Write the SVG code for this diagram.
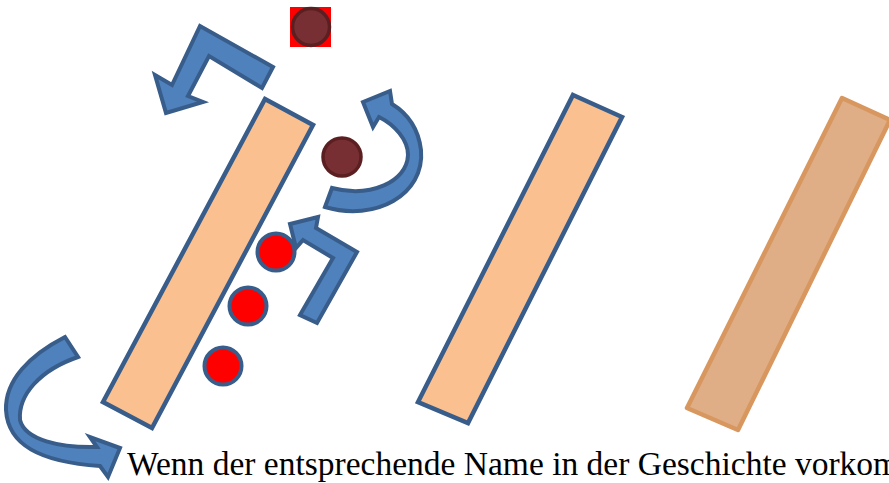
<svg xmlns="http://www.w3.org/2000/svg" width="889" height="483" viewBox="0 0 889 483">
<style>
.bar{fill:#FAC090;stroke:#385D8A;stroke-width:4.5;stroke-linejoin:miter}
.bar3{fill:#DFAE86;stroke:#D8975F;stroke-width:4.5;stroke-linejoin:round}
.arrow{fill:#4F81BD;stroke:#385D8A;stroke-width:4;stroke-linejoin:miter}
.dark{fill:#772F33;stroke:#5B1F22;stroke-width:3.5}
.red{fill:#FF0000;stroke:#385D8A;stroke-width:4}
.label{font-family:"Liberation Serif","DejaVu Serif",serif;font-size:33.5px;fill:#000}
</style>
<rect width="889" height="483" fill="#FFFFFF"/>
<g id="bar1"><polygon class="bar" points="265,99 313,125 152,428 103,402"/></g>
<g id="bar2"><polygon class="bar" points="573,95 622,117 468,423 418,402"/></g>
<g id="bar3"><polygon class="bar3" points="842,98 890,120 738,430 687,408"/></g>
<g id="token-top">
<rect x="290" y="7" width="41" height="40" fill="#FF0000"/>
<circle class="dark" cx="311" cy="27" r="18.5"/>
</g>
<g id="token-dark"><circle class="dark" cx="342" cy="157" r="19"/></g>
<g id="token-red1"><circle class="red" cx="276" cy="252" r="18.5"/></g>
<g id="token-red2"><circle class="red" cx="248" cy="306" r="18.5"/></g>
<g id="token-red3"><circle class="red" cx="223" cy="366" r="18.5"/></g>
<g id="connectors">
<polygon class="arrow" points="273,67 200,26 172,85 155,75 166,113 203,102 188,96 209,56 262,88"/>
<path class="arrow" d="M325,207 C375,222 425,195 421,150 C418,125 405,112 392,104 L390,91 L363,102 L373,127 L379,117 C395,125 408,140 408,155 C407,182 370,198 332,188 Z"/>
<polygon class="arrow" points="300,315 333,258 303,240 296,248 290,224 318,217 316,228 357,252 317,323"/>
<path class="arrow" d="M65,337 C30,355 5,380 6,410 C8,445 40,462 100,466 L108,477 L120,448 L90,437 L97,447 C60,448 25,440 20,420 C18,395 40,370 78,357 Z"/>
</g>
<g id="caption"><text class="label" x="127" y="475">Wenn der entsprechende Name in der Geschichte vorkom</text></g>
</svg>
